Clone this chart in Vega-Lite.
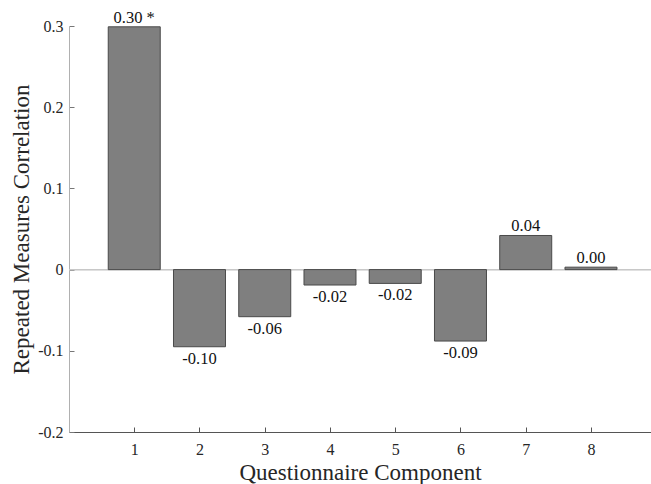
{
  "$schema": "https://vega.github.io/schema/vega-lite/v6.json",
  "autosize": {"type": "none"},
  "padding": {"left": 69, "top": 26, "right": 0, "bottom": 52},
  "width": 582,
  "height": 406,
  "background": "white",
  "config": {
    "view": {"stroke": null},
    "font": "Liberation Serif",
    "axis": {"grid": false, "labelFont": "Liberation Serif", "titleFont": "Liberation Serif", "titleFontWeight": "normal"}
  },
  "data": {
    "values": [
      {"component": 1, "r": 0.299, "label": "0.30 *"},
      {"component": 2, "r": -0.095, "label": "-0.10"},
      {"component": 3, "r": -0.058, "label": "-0.06"},
      {"component": 4, "r": -0.019, "label": "-0.02"},
      {"component": 5, "r": -0.017, "label": "-0.02"},
      {"component": 6, "r": -0.088, "label": "-0.09"},
      {"component": 7, "r": 0.042, "label": "0.04"},
      {"component": 8, "r": 0.003, "label": "0.00"}
    ]
  },
  "layer": [
    {
      "mark": {"type": "rule", "color": "#c8c8c8", "strokeWidth": 1},
      "encoding": {"y": {"datum": 0, "type": "quantitative"}}
    },
    {
      "mark": {"type": "bar", "size": 52, "fill": "#7f7f7f", "stroke": "#4a4a4a", "strokeWidth": 1},
      "encoding": {
        "x": {
          "field": "component", "type": "quantitative",
          "scale": {"domain": [0, 8.92], "nice": false, "zero": false, "padding": 0},
          "axis": {
            "title": "Questionnaire Component", "titleFontSize": 23, "titleColor": "#262626", "titlePadding": 4,
            "values": [1, 2, 3, 4, 5, 6, 7, 8], "format": "d",
            "labelFontSize": 16, "labelColor": "#262626", "labelPadding": 14,
            "tickSize": -5, "tickColor": "#555555", "domainColor": "#555555", "domainWidth": 1
          }
        },
        "y": {
          "field": "r", "type": "quantitative",
          "scale": {"domain": [-0.2, 0.3], "nice": false, "padding": 0},
          "axis": {
            "title": "Repeated Measures Correlation", "titleFontSize": 23, "titleColor": "#262626", "titlePadding": 4,
            "values": [-0.2, -0.1, 0, 0.1, 0.2, 0.3],
            "labelExpr": "datum.value == 0 ? '0' : (datum.value < 0 ? '-' + format(-datum.value, '.1f') : format(datum.value, '.1f'))",
            "labelFontSize": 16, "labelColor": "#262626", "labelPadding": 11,
            "tickSize": -5, "tickColor": "#777777", "domainColor": "#b0b0b0", "domainWidth": 1
          }
        }
      }
    },
    {
      "transform": [{"filter": "datum.r >= 0"}],
      "mark": {"type": "text", "baseline": "bottom", "dy": -1, "fontSize": 16.5, "color": "#111111", "font": "Liberation Serif"},
      "encoding": {
        "x": {"field": "component", "type": "quantitative"},
        "y": {"field": "r", "type": "quantitative"},
        "text": {"field": "label"}
      }
    },
    {
      "transform": [{"filter": "datum.r < 0"}],
      "mark": {"type": "text", "baseline": "top", "dy": 4, "fontSize": 16.5, "color": "#111111", "font": "Liberation Serif"},
      "encoding": {
        "x": {"field": "component", "type": "quantitative"},
        "y": {"field": "r", "type": "quantitative"},
        "text": {"field": "label"}
      }
    }
  ]
}
